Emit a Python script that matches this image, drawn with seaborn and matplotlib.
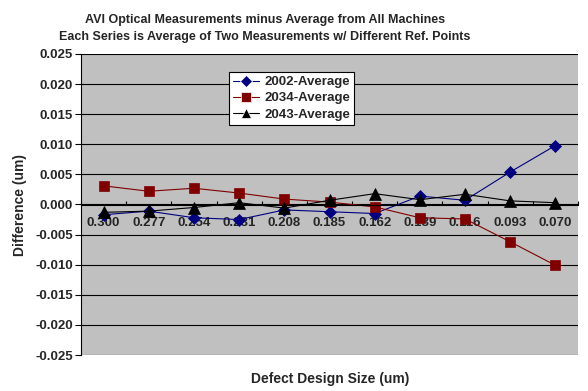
import numpy as np
import pandas as pd
import matplotlib
matplotlib.use("Agg")
import matplotlib.pyplot as plt
import seaborn as sns

# defect design sizes (category axis, in plotted order)
sizes = ["0.300", "0.277", "0.254", "0.231", "0.208", "0.185",
         "0.162", "0.139", "0.116", "0.093", "0.070"]

diff_2002 = [-0.0017, -0.0011, -0.0022, -0.0025, -0.0009, -0.0012,
             -0.0015, 0.0014, 0.0007, 0.0054, 0.0098]
diff_2034 = [0.0031, 0.0022, 0.0027, 0.0019, 0.0009, 0.0004,
             -0.0004, -0.0022, -0.0024, -0.0062, -0.0101]
diff_2043 = [-0.0013, -0.0011, -0.0005, 0.0003, -0.0006, 0.0007,
             0.0018, 0.0008, 0.0017, 0.0006, 0.0003]

series_names = ["2002-Average", "2034-Average", "2043-Average"]
series_colors = ["#000080", "#800000", "#000000"]
series_markers = ["D", "s", "^"]
marker_sizes = [6.5, 6.5, 8]

pos = np.arange(len(sizes))
df = pd.concat([
    pd.DataFrame({"pos": pos, "size": sizes, "diff": vals, "series": name})
    for name, vals in zip(series_names, [diff_2002, diff_2034, diff_2043])
], ignore_index=True)

sns.set_style("white")
plt.rcParams["font.family"] = ["Liberation Sans", "DejaVu Sans"]
plt.rcParams["font.weight"] = "bold"

fig = plt.figure(figsize=(5.88, 3.91), dpi=100)
ax = fig.add_axes([81 / 588, 1 - 355 / 391, 497 / 588, 301 / 391])
ax.set_facecolor("#C0C0C0")

sns.lineplot(
    data=df, x="pos", y="diff", hue="series", style="series",
    palette=dict(zip(series_names, series_colors)),
    markers=dict(zip(series_names, series_markers)),
    dashes=False, sort=False, linewidth=0.8, markersize=6.5,
    markeredgewidth=0.5, ax=ax, legend=True,
)
for line, c, ms in zip(ax.lines, series_colors, marker_sizes):
    line.set_markeredgecolor(c)
    line.set_markersize(ms)

ax.set_xlim(-0.5, len(sizes) - 0.5)
ax.set_ylim(-0.025, 0.025)
yt = np.arange(-0.025, 0.0251, 0.005)
ax.set_yticks(yt)
ax.set_yticklabels([f"{v:.3f}" for v in yt], fontsize=9.5, fontweight="bold")
ax.yaxis.grid(True, color="black", linewidth=0.8)
ax.set_axisbelow(True)
ax.tick_params(axis="y", length=4, width=0.8, color="black", direction="out", left=True, pad=2)

# category axis crosses at zero
ax.spines["bottom"].set_position(("data", 0))
ax.spines["bottom"].set_color("black")
ax.spines["bottom"].set_linewidth(0.8)
ax.spines["left"].set_color("black")
ax.spines["left"].set_linewidth(0.8)
ax.spines["top"].set_visible(False)
ax.spines["right"].set_visible(False)
ax.set_xticks(pos)
ax.set_xticklabels(sizes, fontsize=9.5, fontweight="bold")
ax.set_xticks(np.arange(-0.5, len(sizes), 1.0), minor=True)
ax.tick_params(axis="x", which="major", length=0, pad=9)
ax.tick_params(axis="x", which="minor", length=3, width=0.8, color="black",
               direction="in", bottom=True)

ax.set_xlabel("")
ax.set_ylabel("Difference (um)", fontsize=10, fontweight="bold", labelpad=6)
fig.text(330 / 588, 1 - 379 / 391, "Defect Design Size (um)", ha="center",
         va="center", fontsize=10, fontweight="bold")

fig.text(265 / 588, 1 - 20 / 391, "AVI Optical Measurements minus Average from All Machines",
         ha="center", va="center", fontsize=9, fontweight="bold")
fig.text(265 / 588, 1 - 37 / 391, "Each Series is Average of Two Measurements w/ Different Ref. Points",
         ha="center", va="center", fontsize=9, fontweight="bold")

leg = ax.legend(loc="upper left", bbox_to_anchor=((229 - 81) / 497, (355 - 72) / 301),
                frameon=True, fancybox=False, framealpha=1, edgecolor="black",
                prop={"size": 9.5, "weight": "bold"}, handlelength=2.0,
                borderpad=0.3, labelspacing=0.3, handletextpad=0.4,
                borderaxespad=0)
leg.get_frame().set_linewidth(0.8)

fig.savefig("out.png", dpi=100)
